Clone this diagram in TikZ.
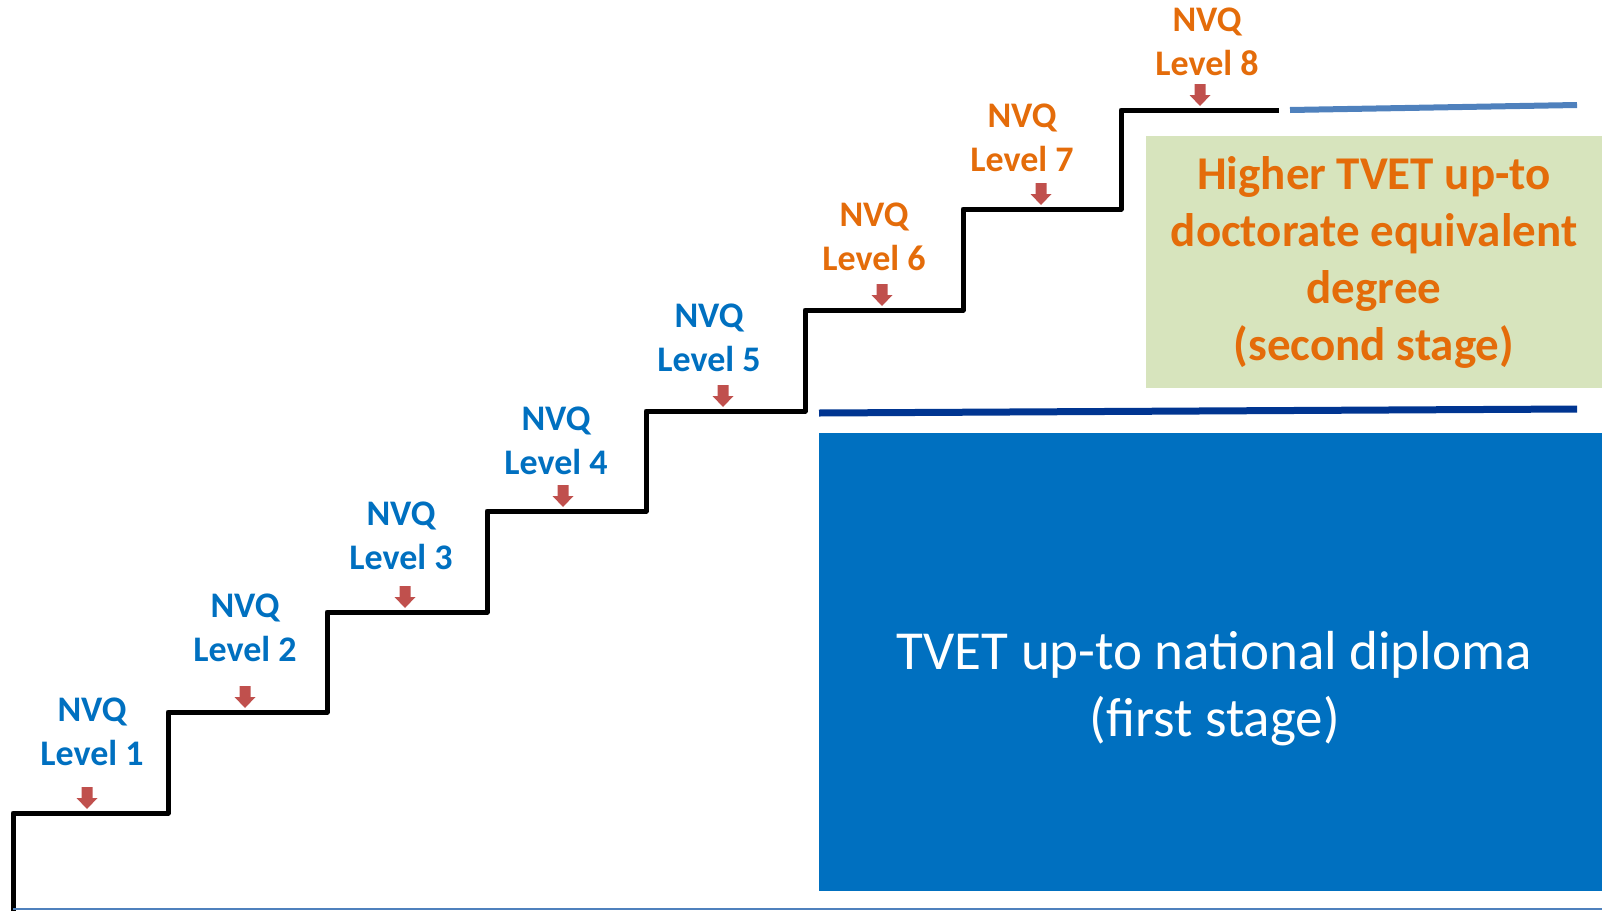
\documentclass[tikz,border=0pt]{standalone}
\usepackage{fontspec}
\setmainfont{Carlito}
\usepackage{xcolor}
\usetikzlibrary{positioning}

\definecolor{nvqblue}{HTML}{0070C0}
\definecolor{nvqorange}{HTML}{E46C0A}
\definecolor{markred}{HTML}{C0504D}
\definecolor{stagegreen}{HTML}{D7E4BD}
\definecolor{lineblue}{HTML}{4F81BD}
\definecolor{navyline}{HTML}{003591}

\begin{document}
\begin{tikzpicture}[
    x=1pt, y=-1pt,
    node distance=13pt,
    lvl/.style={align=center, inner sep=0pt, text=nvqblue, font=\fontsize{36}{44}\selectfont\bfseries},
    lvlhigh/.style={lvl, text=nvqorange},
    downmark/.pic={
        \fill[markred] (-5.5,-22) -- (5.5,-22) -- (5.5,-11) -- (10.5,-11) -- (0,0)
            -- (-10.5,-11) -- (-5.5,-11) -- cycle;
        \coordinate (-top) at (0,-22);
    },
    stair/.style={line width=5pt, line join=round},
    stagetwo/.style={fill=stagegreen, minimum width=456pt, minimum height=252pt, align=center, text=nvqorange, font=\fontsize{47}{57}\selectfont\bfseries},
    stageone/.style={fill=nvqblue, minimum width=783pt, minimum height=458pt},
    stageonetext/.style={align=center, text=white, font=\fontsize{55}{67}\selectfont}
]
\useasboundingbox (0,0) rectangle (1602,910);

% staircase
\draw[stair] (13,915) -- (13,813) -- (168,813) -- (168,712) -- (327,712) -- (327,612)
    -- (487,612) -- (487,511) -- (646,511) -- (646,411) -- (805,411) -- (805,310)
    -- (963,310) -- (963,209) -- (1121,209) -- (1121,110) -- (1279,110);

% markers on the steps
\pic (m1) at (87,809) {downmark};
\pic (m2) at (245,708) {downmark};
\pic (m3) at (405,608) {downmark};
\pic (m4) at (563,507) {downmark};
\pic (m5) at (723,407) {downmark};
\pic (m6) at (882,306) {downmark};
\pic (m7) at (1041,205) {downmark};
\pic (m8) at (1200,106) {downmark};

\node[lvl, above=of m1-top, xshift=5pt, yshift=8pt] (l1) {NVQ\\Level 1};
\node[lvl, above=of m2-top, yshift=11pt] (l2) {NVQ\\Level 2};
\node[lvl, above=of m3-top, xshift=-4pt, yshift=3pt] (l3) {NVQ\\Level 3};
\node[lvl, above=of m4-top, xshift=-7pt, yshift=-3pt] (l4) {NVQ\\Level 4};
\node[lvl, above=of m5-top, xshift=-14pt] (l5) {NVQ\\Level 5};
\node[lvlhigh, above=of m6-top, xshift=-8pt] (l6) {NVQ\\Level 6};
\node[lvlhigh, above=of m7-top, xshift=-19pt, yshift=-2pt] (l7) {NVQ\\Level 7};
\node[lvlhigh, above=of m8-top, xshift=7pt, yshift=-5pt] (l8) {NVQ\\Level 8};

% stages
\node[stagetwo] (stage2) at (1374,262) {Higher TVET up-to\\doctorate equivalent\\degree\\(second stage)};
\node[stageone] (stage1) at (1210.5,662) {};
\node[stageonetext] (stage1txt) at ([xshift=4pt,yshift=-27pt]stage1.center) {TVET up-to national diploma\\(first stage)};

\draw[lineblue, line width=6pt] (1290,110) -- (1577,105);
\draw[navyline, line width=7pt] (819,413) -- (1577,409);
\draw[lineblue, line width=2pt] (13,909) -- (1602,909);

\end{tikzpicture}
\end{document}
